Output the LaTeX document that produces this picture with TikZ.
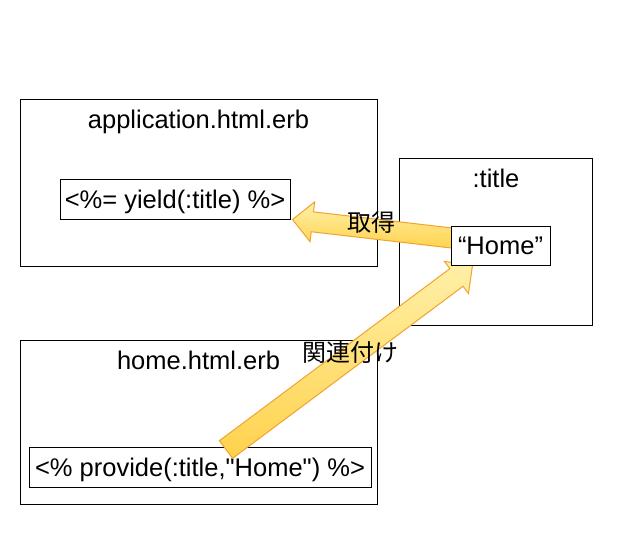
\documentclass[tikz,border=0pt]{standalone}
\usepackage{fontspec}
\setmainfont{Liberation Sans}[Ligatures=TeXOff]
\newfontfamily\cjk{Noto Sans CJK JP}
\usetikzlibrary{calc}
\definecolor{arrlight}{HTML}{FFF0A8}
\definecolor{arrdark}{HTML}{FFD24C}
\definecolor{arrborder}{HTML}{F2A22E}
\tikzset{
  outerbox/.style={draw=black, line width=1pt, fill=white, inner sep=0pt},
  innerbox/.style={draw=black, line width=1pt, fill=white, inner sep=0pt,
    text height=18pt, text depth=0pt, font=\fontsize{25.5pt}{28pt}\selectfont},
  boxtitle/.style={anchor=base, inner sep=0pt, font=\fontsize{25.5pt}{28pt}\selectfont},
  fatarrow/.style={draw=arrborder, line width=1pt, line join=miter,
    top color=arrlight, bottom color=arrdark},
  arrlabel/.style={inner sep=0pt, font=\cjk\fontsize{24pt}{26pt}\selectfont}
}
\begin{document}
\begin{tikzpicture}[x=1pt, y=-1pt]
\useasboundingbox (0,0) rectangle (621,533);
% outer boxes
\node[outerbox, minimum width=357pt, minimum height=167pt] (appbox) at (198.5,182.5) {};
\node[outerbox, minimum width=193pt, minimum height=167pt] (titlebox) at (495.5,241.5) {};
\node[outerbox, minimum width=357pt, minimum height=164pt] (homebox) at (198.5,422) {};
% box titles
\node[boxtitle] (apptitle) at (198.5,128) {application.html.erb};
\node[boxtitle] (titletitle) at (496,187) {:title};
\node[boxtitle] (hometitle) at (198.5,369) {home.html.erb};
% inner boxes
\node[innerbox, minimum width=230pt, minimum height=40pt] (yield) at (175,199) {<\%= yield(:title) \%>};
\node[innerbox, minimum width=342pt, minimum height=40pt] (provide) at (200,467) {<\% provide(:title,"Home") \%>};
% arrow 1: Home -> yield
\coordinate (t1) at ($(titlebox.west)+(66,-2)$);
\coordinate (h1) at ($(yield.south east)+(2,0)$);
\coordinate (b1) at ($(h1)!20pt!(t1)$);
\draw[fatarrow] ($(t1)!10pt!90:(h1)$) -- ($(b1)!10pt!90:(h1)$) -- ($(b1)!20pt!90:(h1)$)
  -- (h1) -- ($(b1)!20pt!-90:(h1)$) -- ($(b1)!10pt!-90:(h1)$) -- ($(t1)!10pt!-90:(h1)$) -- cycle;
% arrow 2: provide -> Home
\coordinate (t2) at ($(provide.north)+(26,3)$);
\coordinate (h2) at ($(titlebox.south west)+(74,-60)$);
\coordinate (b2) at ($(h2)!20pt!(t2)$);
\draw[fatarrow] ($(t2)!11pt!90:(h2)$) -- ($(b2)!11pt!90:(h2)$) -- ($(b2)!20pt!90:(h2)$)
  -- (h2) -- ($(b2)!20pt!-90:(h2)$) -- ($(b2)!11pt!-90:(h2)$) -- ($(t2)!11pt!-90:(h2)$) -- cycle;
% Home box on top
\node[innerbox, minimum width=99pt, minimum height=39pt] (home) at (500.5,245.5) {“Home”};
% labels
\node[arrlabel] (lbl1) at (371,222) {取得};
\node[arrlabel] (lbl2) at (350,352) {関連付け};
\end{tikzpicture}
\end{document}
